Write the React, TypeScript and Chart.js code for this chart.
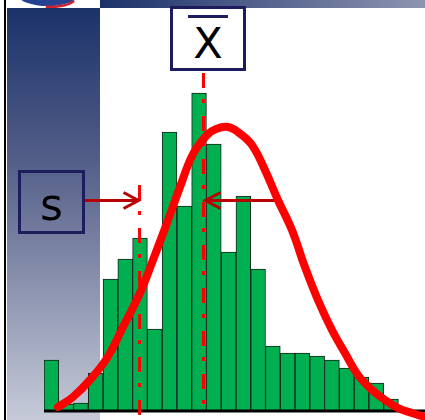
import React, { useEffect, useRef } from "react";
import { Chart, registerables } from "chart.js";

Chart.register(...registerables);

// Histogram bins (bin centres, in bin units) and their frequencies
const binCenters = [0.5, 1.5, 2.5, 3.5, 4.5, 5.5, 6.5, 7.5, 8.5, 9.5, 10.5, 11.5, 12.5, 13.5, 14.5, 15.5, 16.5, 17.5, 18.5, 19.5, 20.5, 21.5, 22.5, 23.5];
const frequencies = [5.0, 0.6, 0.7, 3.7, 13.1, 15.1, 17.2, 8.1, 27.8, 20.4, 31.7, 26.6, 15.8, 21.4, 14.1, 6.4, 5.7, 5.7, 5.4, 5.0, 4.2, 3.3, 2.7, 1.1];

// Fitted normal curve
const curveX = [0.95, 1.96, 3.11, 4.27, 5.35, 6.5, 7.38, 8.33, 9.21, 10.09, 11.04, 11.65, 12.46, 13.13, 14.08, 14.96, 15.84, 16.79, 17.67, 18.55, 19.5, 20.38, 21.26, 22.21, 23.09, 23.97, 24.92, 25.8];
const curveY = [0.3, 1.3, 3.0, 5.2, 8.3, 11.7, 15.0, 18.7, 22.3, 25.6, 27.5, 28.1, 28.3, 27.8, 26.5, 24.0, 21.0, 18.0, 14.3, 11.0, 8.0, 5.7, 3.5, 2.0, 1.0, 0.2, -0.3, -0.7];

const MEAN = 10.8;
const SD = 4.33;
const X_MIN = 0;
const X_MAX = 25.8;
const Y_MAX = 41;

const NAVY = "#1d1d5e";
const ARROW = "#b80000";

const decorPlugin = {
  id: "decor",
  beforeDraw(chart: any) {
    const ctx = chart.ctx as CanvasRenderingContext2D;
    const W = chart.width;
    const H = chart.height;
    ctx.save();
    ctx.fillStyle = "#ffffff";
    ctx.fillRect(0, 0, W, H);
    // top banner
    const g1 = ctx.createLinearGradient(100, 0, W, 0);
    g1.addColorStop(0, "#1b316a");
    g1.addColorStop(1, "#8d94b0");
    ctx.fillStyle = g1;
    ctx.fillRect(100, 0, W - 100, 8);
    // left panel
    const g2 = ctx.createLinearGradient(0, 8, 0, H);
    g2.addColorStop(0, "#1b326a");
    g2.addColorStop(0.35, "#505b86");
    g2.addColorStop(1, "#c6cad8");
    ctx.fillStyle = g2;
    ctx.fillRect(7, 8, 93, H - 8);
    // left black rule
    ctx.fillStyle = "#000000";
    ctx.fillRect(4, 0, 2, H);
    // logo remnant
    ctx.beginPath();
    ctx.rect(7, 0, 93, 8);
    ctx.clip();
    ctx.fillStyle = "#24428f";
    ctx.beginPath();
    ctx.ellipse(48, -5, 30, 11, 0, 0, Math.PI * 2);
    ctx.fill();
    ctx.strokeStyle = "#d3202e";
    ctx.lineWidth = 2.5;
    ctx.beginPath();
    ctx.ellipse(50, -4, 27, 11, 0, 0.15 * Math.PI, 0.55 * Math.PI);
    ctx.stroke();
    ctx.restore();
  },
  afterDatasetDraw(chart: any, args: any) {
    if (args.index !== 1) return;
    const ctx = chart.ctx as CanvasRenderingContext2D;
    const xs = chart.scales.x;
    const area = chart.chartArea;
    ctx.save();
    // baseline
    ctx.fillStyle = "#000000";
    ctx.fillRect(area.left, area.bottom - 0.5, area.right - area.left, 3);

    // vertical lines
    const xm = xs.getPixelForValue(MEAN);
    const xsd = xs.getPixelForValue(MEAN - SD);
    ctx.strokeStyle = "#ff0000";
    ctx.lineWidth = 3;
    ctx.setLineDash([15, 11, 4, 13]);
    ctx.beginPath();
    ctx.moveTo(xm, 73);
    ctx.lineTo(xm, 414);
    ctx.stroke();
    ctx.beginPath();
    ctx.moveTo(xsd, 185);
    ctx.lineTo(xsd, 420);
    ctx.stroke();
    ctx.setLineDash([]);

    // arrows
    const ay = 200.5;
    ctx.strokeStyle = ARROW;
    ctx.lineWidth = 3;
    ctx.lineCap = "butt";
    ctx.lineJoin = "miter";
    // left arrow -> pointing right to s line
    ctx.beginPath();
    ctx.moveTo(85, ay);
    ctx.lineTo(xsd - 1, ay);
    ctx.stroke();
    ctx.beginPath();
    ctx.moveTo(xsd - 16, ay - 8);
    ctx.lineTo(xsd - 1, ay);
    ctx.lineTo(xsd - 16, ay + 8);
    ctx.stroke();
    // right arrow <- pointing left to mean line
    ctx.beginPath();
    ctx.moveTo(xm + 2, ay);
    ctx.lineTo(280, ay);
    ctx.stroke();
    ctx.beginPath();
    ctx.moveTo(xm + 17, ay - 8);
    ctx.lineTo(xm + 2, ay);
    ctx.lineTo(xm + 17, ay + 8);
    ctx.stroke();
    ctx.restore();
  },
};

export default function App() {
  const ref = useRef<HTMLCanvasElement | null>(null);

  useEffect(() => {
    if (!ref.current) return;
    const chart = new Chart(ref.current, {
      type: "bar",
      data: {
        datasets: [
          {
            type: "line",
            data: curveX.map((x, i) => ({ x, y: curveY[i] })),
            borderColor: "#ff0000",
            borderWidth: 8,
            pointRadius: 0,
            tension: 0.4,
            fill: false,
            clip: false,
            order: 0,
            borderCapStyle: "round",
            borderJoinStyle: "round",
          } as any,
          {
            type: "bar",
            data: binCenters.map((x, i) => ({ x, y: frequencies[i] })),
            backgroundColor: "#00b050",
            borderColor: "#16221a",
            borderWidth: 1,
            barPercentage: 1,
            categoryPercentage: 1,
            order: 1,
          } as any,
        ],
      },
      options: {
        animation: false,
        responsive: false,
        devicePixelRatio: 1,
        layout: { padding: { left: 44, right: 0, top: 0, bottom: 10 } },
        scales: {
          x: { type: "linear", min: X_MIN, max: X_MAX, display: false, offset: false },
          y: { min: 0, max: Y_MAX, display: false },
        },
        plugins: {
          legend: { display: false },
          tooltip: { enabled: false },
        },
      },
      plugins: [decorPlugin],
    });
    return () => chart.destroy();
  }, []);

  const font = "'DejaVu Sans', Verdana, sans-serif";

  return (
    <div style={{ position: "absolute", left: 0, top: 0, width: 425, height: 420, overflow: "hidden" }}>
      <canvas ref={ref} width={425} height={420} style={{ display: "block", width: 425, height: 420 }} />
      {/* X-bar box */}
      <div
        style={{
          position: "absolute",
          left: 170,
          top: 6,
          width: 76,
          height: 65,
          boxSizing: "border-box",
          border: `3px solid ${NAVY}`,
          background: "#ffffff",
        }}
      />
      <div style={{ position: "absolute", left: 188, top: 15, width: 40, height: 3, background: NAVY }} />
      <div
        style={{
          position: "absolute",
          left: 170,
          top: 22,
          width: 76,
          textAlign: "center",
          fontFamily: font,
          fontSize: 43,
          lineHeight: "43px",
          color: "#000000",
        }}
      >
        X
      </div>
      {/* s box */}
      <div
        style={{
          position: "absolute",
          left: 18,
          top: 170,
          width: 67,
          height: 64,
          boxSizing: "border-box",
          border: `3px solid ${NAVY}`,
        }}
      />
      <div
        style={{
          position: "absolute",
          left: 18,
          top: 183,
          width: 67,
          textAlign: "center",
          fontFamily: font,
          fontSize: 44,
          lineHeight: "44px",
          color: "#000000",
        }}
      >
        s
      </div>
    </div>
  );
}
